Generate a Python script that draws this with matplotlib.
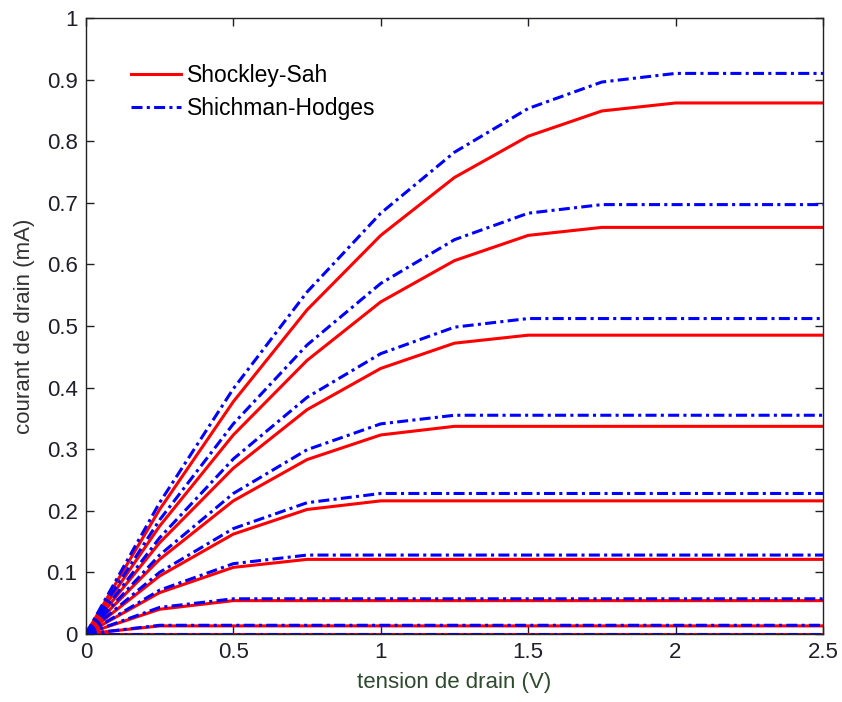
import matplotlib
matplotlib.use("Agg")
import matplotlib.pyplot as plt

# -----------------------------
# DATA (mA vs V)
# -----------------------------
vds = [0, 0.25, 0.5, 0.75, 1.0, 1.25, 1.5, 1.75, 2.0, 2.25, 2.5]

# Shockley-Sah, one row per gate voltage (highest first)
sah_curves = [
    [0, 0.202, 0.377, 0.526, 0.647, 0.741, 0.808, 0.849, 0.862, 0.862, 0.862],
    [0, 0.175, 0.323, 0.444, 0.539, 0.606, 0.647, 0.660, 0.660, 0.660, 0.660],
    [0, 0.148, 0.269, 0.364, 0.431, 0.472, 0.485, 0.485, 0.485, 0.485, 0.485],
    [0, 0.121, 0.216, 0.283, 0.323, 0.337, 0.337, 0.337, 0.337, 0.337, 0.337],
    [0, 0.094, 0.162, 0.202, 0.216, 0.216, 0.216, 0.216, 0.216, 0.216, 0.216],
    [0, 0.067, 0.108, 0.121, 0.121, 0.121, 0.121, 0.121, 0.121, 0.121, 0.121],
    [0, 0.040, 0.054, 0.054, 0.054, 0.054, 0.054, 0.054, 0.054, 0.054, 0.054],
    [0, 0.013, 0.013, 0.013, 0.013, 0.013, 0.013, 0.013, 0.013, 0.013, 0.013],
    [0, 0, 0, 0, 0, 0, 0, 0, 0, 0, 0],
]

# Shichman-Hodges, same gate voltages
hodges_curves = [
    [0, 0.213, 0.398, 0.555, 0.683, 0.782, 0.853, 0.896, 0.910, 0.910, 0.910],
    [0, 0.185, 0.341, 0.469, 0.569, 0.640, 0.683, 0.697, 0.697, 0.697, 0.697],
    [0, 0.156, 0.284, 0.384, 0.455, 0.498, 0.512, 0.512, 0.512, 0.512, 0.512],
    [0, 0.128, 0.228, 0.299, 0.341, 0.355, 0.355, 0.355, 0.355, 0.355, 0.355],
    [0, 0.100, 0.171, 0.213, 0.228, 0.228, 0.228, 0.228, 0.228, 0.228, 0.228],
    [0, 0.071, 0.114, 0.128, 0.128, 0.128, 0.128, 0.128, 0.128, 0.128, 0.128],
    [0, 0.043, 0.057, 0.057, 0.057, 0.057, 0.057, 0.057, 0.057, 0.057, 0.057],
    [0, 0.014, 0.014, 0.014, 0.014, 0.014, 0.014, 0.014, 0.014, 0.014, 0.014],
    [0, 0, 0, 0, 0, 0, 0, 0, 0, 0, 0],
]

x_ticks = [0, 0.5, 1, 1.5, 2, 2.5]
x_tick_labels = ["0", "0.5", "1", "1.5", "2", "2.5"]
y_ticks = [0, 0.1, 0.2, 0.3, 0.4, 0.5, 0.6, 0.7, 0.8, 0.9, 1]
y_tick_labels = ["0", "0.1", "0.2", "0.3", "0.4", "0.5", "0.6", "0.7", "0.8", "0.9", "1"]

# -----------------------------
# FIGURE
# -----------------------------
plt.rcParams['font.family'] = ['Liberation Sans', 'DejaVu Sans']

fig = plt.figure(figsize=(8.42, 7.02), dpi=100)
ax = fig.add_axes([0.102, 0.097, 0.8754, 0.8774])

for i, curve in enumerate(sah_curves):
    ax.plot(vds, curve, color="#ff0000", lw=2.2,
            label="Shockley-Sah" if i == 0 else None)

# blue drawn last so its dashes sit over the red where they overlap
for i, curve in enumerate(hodges_curves):
    ax.plot(vds, curve, color="#0000ff", lw=2.2, dashes=(3.6, 1.4, 1.0, 1.4),
            label="Shichman-Hodges" if i == 0 else None)

ax.set_xlim(0, 2.5)
ax.set_ylim(0, 1)
ax.set_xticks(x_ticks)
ax.set_xticklabels(x_tick_labels)
ax.set_yticks(y_ticks)
ax.set_yticklabels(y_tick_labels)

ax.tick_params(direction="in", length=6, width=1, top=True, right=True,
               labelsize=16, colors="#1f1f2a", pad=6)
for s in ax.spines.values():
    s.set_color("#222222")
    s.set_linewidth(1)

ax.set_xlabel("tension de drain (V)", fontsize=16, color="#2f4a2f", labelpad=6)
ax.set_ylabel("courant de drain (mA)", fontsize=16, color="#333333", labelpad=8)

ax.legend(loc="upper left", frameon=False, fontsize=16.5,
          handlelength=2.2, handletextpad=0.26, labelspacing=0.42,
          bbox_to_anchor=(0.033, 0.958))

fig.savefig("out.png", dpi=100)
